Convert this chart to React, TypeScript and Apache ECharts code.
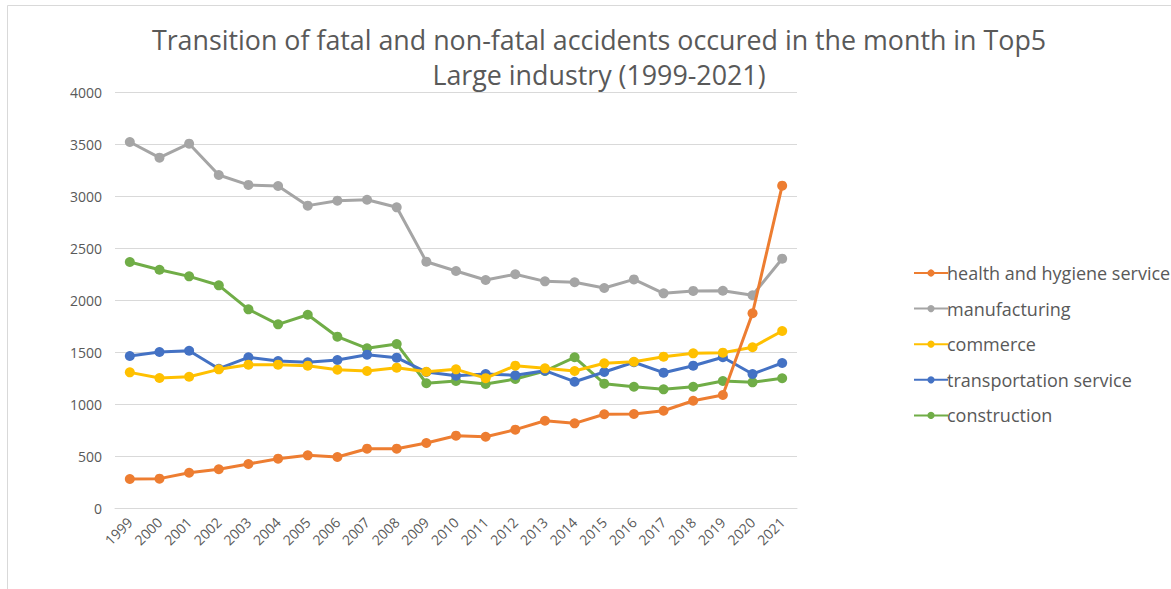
import React, { useEffect, useRef } from "react";
import * as echarts from "echarts";

const years = ["1999","2000","2001","2002","2003","2004","2005","2006","2007","2008","2009","2010","2011","2012","2013","2014","2015","2016","2017","2018","2019","2020","2021"];
const health = [286, 289, 346, 379, 430, 481, 513, 497, 577, 577, 632, 702, 692, 760, 846, 821, 908, 911, 942, 1038, 1093, 1879, 3106];
const manufacturing = [3526, 3375, 3510, 3209, 3113, 3103, 2914, 2962, 2971, 2898, 2375, 2286, 2199, 2254, 2186, 2177, 2122, 2205, 2071, 2094, 2096, 2052, 2404];
const commerce = [1311, 1257, 1269, 1340, 1385, 1385, 1375, 1337, 1324, 1356, 1317, 1340, 1255, 1375, 1350, 1324, 1398, 1413, 1462, 1494, 1500, 1552, 1709];
const transportation = [1468, 1507, 1519, 1346, 1456, 1420, 1408, 1430, 1481, 1452, 1314, 1279, 1295, 1283, 1327, 1221, 1314, 1408, 1308, 1375, 1456, 1295, 1401];
const construction = [2372, 2298, 2234, 2148, 1917, 1773, 1865, 1654, 1542, 1584, 1206, 1228, 1199, 1247, 1324, 1456, 1202, 1173, 1148, 1173, 1228, 1215, 1254];

const seriesNames = ["health and hygiene service", "manufacturing", "commerce", "transportation service", "construction"];
const seriesData = [health, manufacturing, commerce, transportation, construction];
const colors = ["#ED7D31", "#A5A5A5", "#FFC000", "#4472C4", "#70AD47"];

const FONT = "'Open Sans', sans-serif";

export default function App() {
  const ref = useRef<HTMLDivElement>(null);
  useEffect(() => {
    document.body.style.margin = "0";
    const chart = echarts.init(ref.current!, null, { renderer: "svg" });
    chart.setOption({
      animation: false,
      backgroundColor: "#ffffff",
      color: colors,
      title: {
        text: "Transition of fatal and non-fatal accidents occured in the month in Top5\nLarge industry (1999-2021)",
        left: 594,
        textAlign: "center",
        top: 17,
        textStyle: { fontFamily: FONT, fontSize: 26.8, fontWeight: "normal", color: "#595959", lineHeight: 35 },
      },
      graphic: [
        { type: "line", shape: { x1: 7.5, y1: 5.5, x2: 1171, y2: 5.5 }, style: { stroke: "#D9D9D9", lineWidth: 1 } },
        { type: "line", shape: { x1: 7.5, y1: 5.5, x2: 7.5, y2: 589 }, style: { stroke: "#D9D9D9", lineWidth: 1 } },
      ],
      legend: {
        orient: "vertical",
        left: 908,
        top: 259,
        itemWidth: 34,
        itemHeight: 9,
        itemGap: 17.6,
        data: seriesNames,
        textStyle: { fontFamily: FONT, fontSize: 18, color: "#595959", lineHeight: 18, padding: [0, 0, 0, -6] },
      },
      grid: { left: 115, right: 374, top: 92.7, bottom: 80.3, containLabel: false },
      xAxis: {
        type: "category",
        data: years,
        boundaryGap: true,
        axisLine: { show: true, lineStyle: { color: "#D9D9D9", width: 1 } },
        axisTick: { show: false },
        axisLabel: { rotate: 45, fontFamily: FONT, fontSize: 14, color: "#595959", margin: 11, interval: 0 },
      },
      yAxis: {
        type: "value",
        min: 0,
        max: 4000,
        interval: 500,
        axisLine: { show: false },
        axisTick: { show: false },
        splitLine: { lineStyle: { color: "#D9D9D9", width: 1 } },
        axisLabel: { fontFamily: FONT, fontSize: 14, color: "#595959", margin: 13, formatter: (v: number) => String(v) },
      },
      series: seriesNames.map((n, i) => ({
        name: n,
        type: "line",
        data: seriesData[i],
        symbol: "circle",
        symbolSize: 10,
        lineStyle: { width: 3, color: colors[i] },
        itemStyle: { color: colors[i] },
        z: 10 - i,
      })),
    });
    return () => chart.dispose();
  }, []);
  return <div ref={ref} style={{ width: 1171, height: 589 }} />;
}
